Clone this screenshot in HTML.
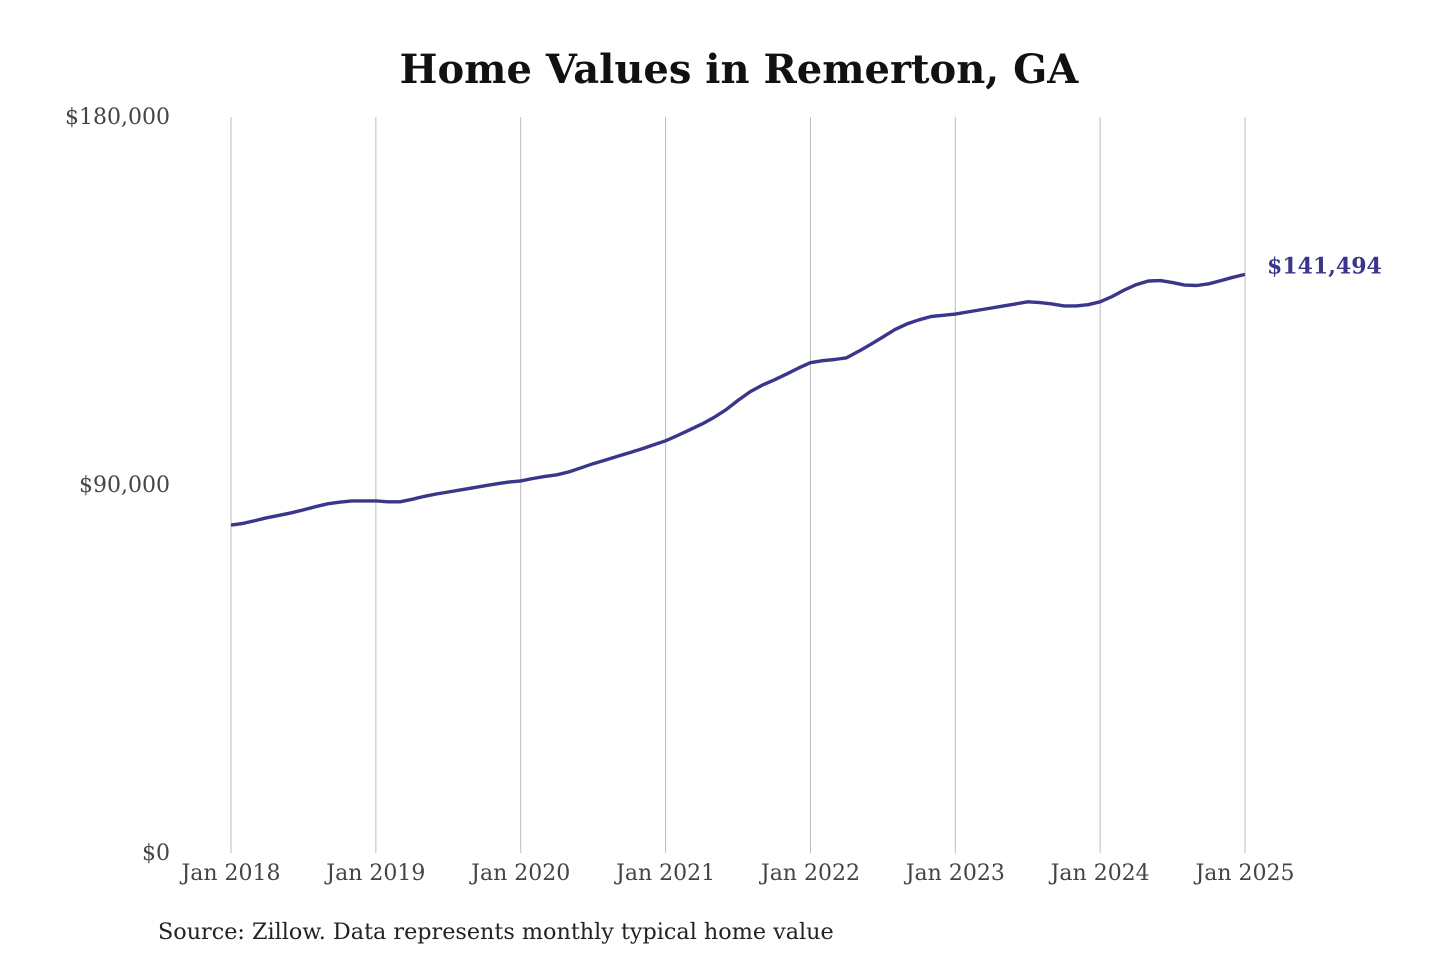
<!DOCTYPE html>
<html><head><meta charset="utf-8"><style>
html,body{margin:0;padding:0;background:#fff;}
svg text{font-family:"DejaVu Serif","Liberation Serif",serif;}
</style></head><body>
<svg width="1440" height="960" viewBox="0 0 1440 960">
<text x="739" y="83" text-anchor="middle" font-size="40" font-weight="bold" fill="#111">Home Values in Remerton, GA</text>
<g id="grid"></g><g id="yticks"></g><g id="xticks"></g>
<path id="line" fill="none" stroke="#3a3689" stroke-width="3.4" stroke-linejoin="round"/>
<text id="endlabel" font-size="22" font-weight="bold" fill="#3a3689"></text>
<text x="158" y="939" font-size="22.3" fill="#222">Source: Zillow. Data represents monthly typical home value</text>
</svg>
<script>
const yTicks=[0,90000,180000];
const yTickLabels=["$0","$90,000","$180,000"];
const xTickLabels=["Jan 2018","Jan 2019","Jan 2020","Jan 2021","Jan 2022","Jan 2023","Jan 2024","Jan 2025"];
const values=[80.2,80.6,81.3,82.0,82.6,83.2,83.9,84.7,85.4,85.8,86.1,86.1,
86.1,85.9,85.9,86.5,87.2,87.8,88.3,88.8,89.3,89.8,90.3,90.7,
91.0,91.6,92.1,92.5,93.2,94.2,95.2,96.1,97.0,97.9,98.8,99.8,
100.8,102.1,103.5,104.9,106.5,108.4,110.7,112.8,114.4,115.7,117.1,118.6,
119.9,120.4,120.7,121.1,122.7,124.4,126.2,128.0,129.4,130.4,131.2,131.5,
131.8,132.3,132.8,133.3,133.8,134.3,134.8,134.6,134.3,133.8,133.8,134.1,
134.8,136.1,137.7,139.0,139.9,140.0,139.5,138.9,138.8,139.2,140.0,140.8,
141.494].map(v=>v*1000);
const NS="http://www.w3.org/2000/svg";
const x=m=>231+(1245-231)*m/84;
const y=v=>853-(853-117)*v/180000;
function mk(t,a,p){const e=document.createElementNS(NS,t);for(const k in a)e.setAttribute(k,a[k]);p.appendChild(e);return e;}
const grid=document.getElementById('grid'),yt=document.getElementById('yticks'),xt=document.getElementById('xticks');
xTickLabels.forEach((l,i)=>{
  const gx=x(i*12);
  const g=mk('line',{x1:gx,x2:gx,y1:117,y2:853,stroke:'#bdbdbd','stroke-width':1},grid);
  
  
  const t=mk('text',{x:gx,y:880,'text-anchor':'middle','font-size':22,fill:'#444'},xt);
  t.textContent=l;
  
  
});
yTicks.forEach((v,i)=>{
  const t=mk('text',{x:170,y:y(v)+7,'text-anchor':'end','font-size':22,fill:'#444'},yt);
  t.textContent=yTickLabels[i];
  
  
});
document.getElementById('line').setAttribute('d',values.map((v,i)=>(i?'L':'M')+x(i).toFixed(1)+','+y(v).toFixed(1)).join(''));
const last=values[values.length-1];
const el=document.getElementById('endlabel');
el.setAttribute('x',x(values.length-1)+22);
el.setAttribute('y',y(last)-1);
el.textContent='$'+Math.round(last).toLocaleString('en-US');
</script>
</body></html>
